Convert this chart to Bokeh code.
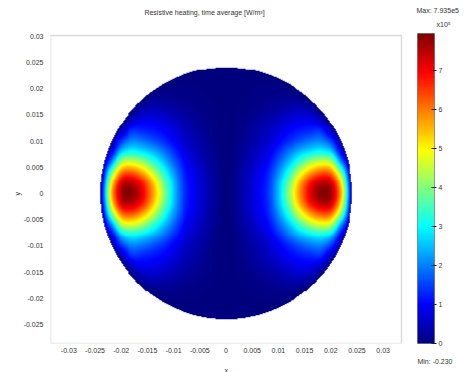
import numpy as np
from bokeh.plotting import figure
from bokeh.models import (LinearColorMapper, ColorBar, FixedTicker, BoxAnnotation,
                          CustomJSTickFormatter, Label, Title, Range1d)
from bokeh.embed import file_html
from bokeh.resources import INLINE

# ---------------- data ----------------
title_text = "Resistive heating, time average [W/m\u00b3]"
max_text = "Max: 7.935e5"
min_text = "Min: -0.230"
scale_text = "x10\u2075"
value_min = -0.230
value_max = 7.935e5
disk_radius_m = 0.024

# visible plot-area limits
x_lo, x_hi = -0.0335, 0.0335
y_lo, y_hi = -0.02863, 0.03016

x_ticks = [-0.03, -0.025, -0.02, -0.015, -0.01, -0.005, 0, 0.005, 0.01, 0.015, 0.02, 0.025, 0.03]
y_ticks = [-0.025, -0.02, -0.015, -0.01, -0.005, 0, 0.005, 0.01, 0.015, 0.02, 0.025, 0.03]
cbar_ticks = [0, 1e5, 2e5, 3e5, 4e5, 5e5, 6e5, 7e5]

# sample positions (mm) of the quarter-disk table (field is mirror symmetric in x and y)
grid_x_mm = [0, 2, 4, 6, 8, 10, 12, 14, 16, 18, 20, 22, 24]
grid_y_mm = [0, 2, 4, 6, 8, 10, 12, 14, 16, 18, 20, 22, 24]
# resistive heating, units of 1e5 W/m^3, rows = y, columns = x
heat_1e5 = [
    [0, 0.20, 0.50, 0.90, 1.40, 2.55, 4.20, 5.75, 7.10, 7.85, 7.60, 5.25, 0.50],  # y = 0
    [0, 0.20, 0.50, 0.88, 1.35, 2.47, 3.90, 5.45, 6.75, 7.40, 7.20, 4.75, 0.35],  # y = 2
    [0, 0.18, 0.45, 0.80, 1.25, 2.15, 3.30, 4.55, 5.60, 6.20, 5.95, 3.60, 0.10],  # y = 4
    [0, 0.14, 0.37, 0.66, 1.02, 1.75, 2.55, 3.40, 4.20, 4.60, 4.30, 1.90, 0],     # y = 6
    [0, 0.10, 0.30, 0.52, 0.82, 1.32, 1.92, 2.42, 2.78, 3.00, 2.55, 0.73, 0],     # y = 8
    [0, 0.07, 0.22, 0.40, 0.62, 0.95, 1.32, 1.62, 1.90, 2.00, 1.40, 0.16, 0],     # y = 10
    [0, 0.05, 0.14, 0.32, 0.50, 0.75, 0.98, 1.15, 1.25, 1.30, 0.45, 0, 0],        # y = 12
    [0, 0.04, 0.10, 0.22, 0.34, 0.52, 0.70, 0.82, 0.85, 0.50, 0, 0, 0],           # y = 14
    [0, 0.03, 0.07, 0.13, 0.20, 0.30, 0.42, 0.50, 0.35, 0.05, 0, 0, 0],           # y = 16
    [0, 0.02, 0.04, 0.07, 0.10, 0.15, 0.18, 0.14, 0.02, 0, 0, 0, 0],              # y = 18
    [0, 0.01, 0.02, 0.04, 0.05, 0.05, 0.03, 0, 0, 0, 0, 0, 0],                    # y = 20
    [0, 0.005, 0.01, 0.01, 0.005, 0, 0, 0, 0, 0, 0, 0, 0],                         # y = 22
    [0, 0, 0, 0, 0, 0, 0, 0, 0, 0, 0, 0, 0],                                       # y = 24
]

# ---------------- build the full disk image (mirror + smooth resampling) ----------------
q = np.array(heat_1e5, dtype=float) * 1e5
q = np.pad(q, ((0, 1), (0, 1)))                 # zero node just outside the disk
full = np.concatenate([q[:, :0:-1], q], axis=1)
full = np.concatenate([full[:0:-1, :], full], axis=0)
step_mm = grid_x_mm[1] - grid_x_mm[0]
node_max_mm = grid_x_mm[-1] + step_mm
n_nodes = full.shape[0]


def catmull_rom_matrix(t, n):
    i = np.floor(t).astype(int)
    f = t - i
    ws = [-0.5 * f**3 + f**2 - 0.5 * f,
          1.5 * f**3 - 2.5 * f**2 + 1,
          -1.5 * f**3 + 2 * f**2 + 0.5 * f,
          0.5 * f**3 - 0.5 * f**2]
    m = np.zeros((len(t), n))
    rows = np.arange(len(t))
    for k, w in zip((-1, 0, 1, 2), ws):
        np.add.at(m, (rows, np.clip(i + k, 0, n - 1)), w)
    return m


N = 256
R_mm = disk_radius_m * 1000
centers = -R_mm + (np.arange(N) + 0.5) * (2 * R_mm / N)
t = (centers + node_max_mm) / step_mm
M = catmull_rom_matrix(t, n_nodes)
Z = M @ full @ M.T
Z = np.clip(Z, 0, None)
XX, YY = np.meshgrid(centers, centers)
Z[XX**2 + YY**2 > R_mm**2] = np.nan

# ---------------- jet palette ----------------
def jet(n=256):
    out = []
    for v in np.linspace(0, 1, n):
        r = np.clip(1.5 - abs(4 * v - 3), 0, 1)
        g = np.clip(1.5 - abs(4 * v - 2), 0, 1)
        b = np.clip(1.5 - abs(4 * v - 1), 0, 1)
        out.append("#%02x%02x%02x" % (int(r * 255), int(g * 255), int(b * 255)))
    return out

mapper = LinearColorMapper(palette=jet(), low=value_min, high=value_max,
                           nan_color="rgba(0, 0, 0, 0)")

FONT = "Liberation Sans"
FS = "7px"
TXT = "#333333"

# ---------------- geometry (pixels, page coordinates) ----------------
W = 468
LEFT, BOTTOM = 50, 29
PLOT_RIGHT, PLOT_BOTTOM = 401, 343
PX_PER_UNIT = (PLOT_RIGHT - LEFT) / (x_hi - x_lo)
frame_w, frame_h = W - LEFT, PLOT_BOTTOM
x_end = x_lo + frame_w / PX_PER_UNIT
y_end = y_lo + frame_h / PX_PER_UNIT


def px_x(cx):   # page x -> data x
    return x_lo + (cx - LEFT) / PX_PER_UNIT


def px_y(cy):   # page y -> data y
    return y_lo + (PLOT_BOTTOM - cy) / PX_PER_UNIT


p = figure(frame_width=frame_w, frame_height=frame_h,
           x_range=Range1d(x_lo, x_end), y_range=Range1d(y_lo, y_end),
           output_backend="svg", toolbar_location=None, title_location=None,
           min_border_left=LEFT, min_border_right=0, min_border_top=0,
           min_border_bottom=BOTTOM)
p.grid.visible = False
p.outline_line_color = None
p.background_fill_color = "white"
p.border_fill_color = "white"

p.image(image=[Z], x=-disk_radius_m, y=-disk_radius_m,
        dw=2 * disk_radius_m, dh=2 * disk_radius_m, color_mapper=mapper)

p.add_layout(BoxAnnotation(left=x_lo, right=x_hi, bottom=y_lo, top=y_hi,
                           fill_color=None, line_color="#8a8a8a", line_width=1.5))

fmt = CustomJSTickFormatter(code="return String(parseFloat(tick.toFixed(4)));")
p.xaxis.ticker = FixedTicker(ticks=x_ticks)
p.yaxis.ticker = FixedTicker(ticks=y_ticks)
for ax in (p.xaxis[0], p.yaxis[0]):
    ax.formatter = fmt
    ax.axis_line_color = None
    ax.major_tick_line_color = None
    ax.minor_tick_line_color = None
    ax.major_tick_out = 0
    ax.major_tick_in = 0
    ax.minor_tick_out = 0
    ax.minor_tick_in = 0
    ax.major_label_text_font = FONT
    ax.major_label_text_font_size = FS
    ax.major_label_text_color = TXT
p.xaxis.major_label_standoff = 4
p.yaxis.major_label_standoff = 7


def side_title(text, side, align, offset):
    p.add_layout(Title(text=text, align=align, offset=offset, standoff=0,
                       text_font=FONT, text_font_size=FS, text_font_style="normal",
                       text_color=TXT), side)

side_title(min_text, "below", "right", W - 452)
side_title("x", "below", "left", 174)
side_title("y", "left", "left", 148)

cb = ColorBar(color_mapper=mapper, ticker=FixedTicker(ticks=cbar_ticks),
              formatter=CustomJSTickFormatter(code="return (tick / 1e5).toFixed(0);"),
              width=17, height=310, location=(417 - LEFT, 0), padding=0, margin=0,
              major_label_text_font=FONT, major_label_text_font_size=FS,
              major_label_text_color=TXT,
              major_tick_line_color="#222222", major_tick_in=3, major_tick_out=2,
              label_standoff=2, bar_line_color="#444444", bar_line_width=0.5,
              border_line_color=None, background_fill_color=None)
p.add_layout(cb)


def add_label(text, cx, cy, align="left"):
    p.add_layout(Label(x=px_x(cx), y=px_y(cy), text=text, text_font=FONT,
                       text_font_size=FS, text_color=TXT, text_align=align,
                       text_baseline="middle"))

add_label(title_text, 204, 12, "center")
add_label(max_text, 416, 10)
add_label(scale_text, 436, 24)

open("out.html", "w").write(file_html(p, INLINE))
